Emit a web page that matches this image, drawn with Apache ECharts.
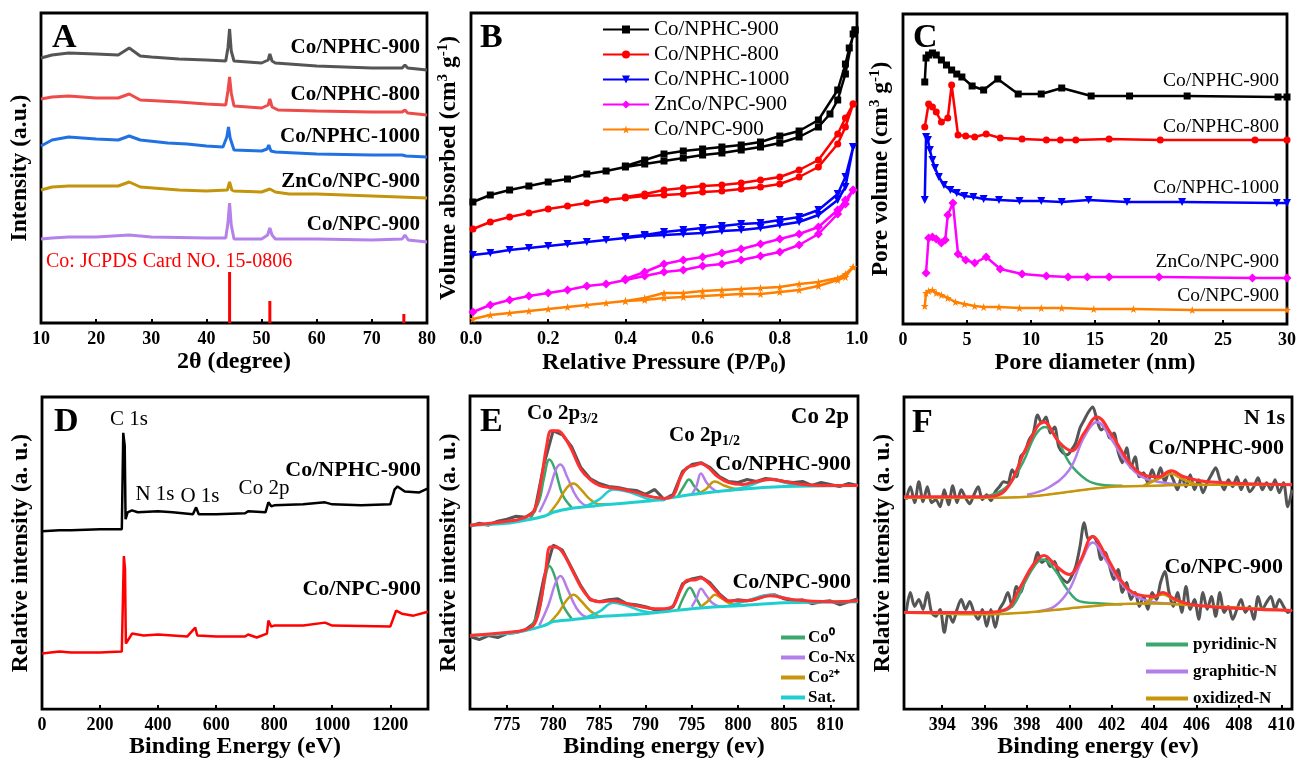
<!DOCTYPE html>
<html lang="en">
<head>
<meta charset="UTF-8">
<title>Co/NPHC characterization</title>
<script src="https://cdn.jsdelivr.net/npm/echarts@6/dist/echarts.min.js"></script>
<style>html,body{margin:0;background:#fff}</style>
</head>
<body>
<div id="main" style="width:1299px;height:760px;"></div>
<script>
// ---- A: XRD (2theta, intensity a.u.) ----
var xrdNPHC900 = [[10,265],[12,268],[15,270],[20,269],[24,268],[26,275],[28,267],[30,266],[35,264],[40,263],[43.5,262],[43.9,275],[44.2,294],[44.5,272],[45,262],[50,260],[51.2,263],[51.5,269],[51.9,262],[52.5,260],[60,257],[70,255],[75.5,255],[76,258],[76.5,255],[80,253]];
var xrdNPHC800 = [[10,224],[12,226],[15,227],[20,225],[24,225],[26,229],[28,223],[35,221],[40,219],[43.5,218],[43.9,232],[44.2,246],[44.5,230],[45,217],[50,215],[51.2,218],[51.5,224],[51.9,216],[53,213],[60,212],[70,211],[75.5,211],[76,213],[76.5,210],[80,208]];
var xrdNPHC1000 = [[10,177],[12,183],[15,186],[20,184],[24,183],[26,187],[28,183],[33,180],[36.5,179],[40,177],[43,176],[43.7,186],[44,196],[44.3,185],[45,173],[50,172],[51,174],[51.3,178],[51.7,172],[52.5,171],[60,169],[70,168],[75.5,168],[75.8,170],[76.2,167],[80,166]];
var xrdZnCo900 = [[10,133],[12,136],[15,137],[20,137],[24,137],[26,141],[28,136],[35,133],[40,132],[43.8,133],[44.2,141],[44.6,133],[45,132],[50,131],[51.5,134],[52.5,131],[55,129],[60,129],[70,127],[80,125]];
var xrdNPC900 = [[10,84],[12,85],[15,86],[20,86],[26,88],[30,86],[40,85],[43.5,85],[43.9,100],[44.2,120],[44.5,98],[45,84],[50,84],[51.1,88],[51.5,95],[51.9,88],[52.5,84],[60,84],[70,83],[75.5,84],[76,88],[76.6,83],[80,81]];
var jcpdsCo = [[44.2,51],[51.5,22],[75.8,9]];

// ---- B: N2 isotherms (P/P0, volume a.u.) adsorption / desorption ----
var isoNPHC900Ads = [[0.005,121],[0.05,128],[0.1,133],[0.15,137],[0.2,141],[0.25,144],[0.3,149],[0.35,152],[0.4,156],[0.45,159],[0.5,162],[0.55,165],[0.6,168],[0.65,170],[0.7,173],[0.75,176],[0.8,180],[0.85,186],[0.9,196],[0.93,209],[0.95,223],[0.97,249],[0.99,289],[0.995,293]];
var isoNPHC900Des = [[0.995,293],[0.98,275],[0.97,259],[0.95,233],[0.9,203],[0.85,192],[0.8,187],[0.75,181],[0.7,178],[0.65,176],[0.6,174],[0.55,172],[0.5,169],[0.45,163],[0.4,157]];
var isoNPHC800Ads = [[0.005,94],[0.05,101],[0.1,106],[0.15,110],[0.2,114],[0.25,117],[0.3,120],[0.35,123],[0.4,125],[0.45,127],[0.5,128],[0.55,129],[0.6,131],[0.65,132],[0.7,134],[0.75,136],[0.8,139],[0.85,146],[0.9,156],[0.95,179],[0.97,196],[0.99,219]];
var isoNPHC800Des = [[0.99,219],[0.97,205],[0.95,189],[0.9,163],[0.85,153],[0.8,146],[0.75,143],[0.7,140],[0.65,138],[0.6,137],[0.55,135],[0.5,133],[0.45,129],[0.4,126]];
var isoNPHC1000Ads = [[0.005,68],[0.05,70],[0.1,73],[0.15,75],[0.2,77],[0.25,79],[0.3,81],[0.35,83],[0.4,85],[0.45,87],[0.5,88],[0.55,89],[0.6,90],[0.65,92],[0.7,93],[0.75,95],[0.8,98],[0.85,101],[0.9,108],[0.95,123],[0.97,136],[0.99,176]];
var isoNPHC1000Des = [[0.99,176],[0.97,146],[0.95,129],[0.9,113],[0.85,106],[0.8,103],[0.75,100],[0.7,99],[0.65,97],[0.6,95],[0.55,93],[0.5,91],[0.45,88],[0.4,86]];
var isoZnCo900Ads = [[0.005,11],[0.05,18],[0.1,23],[0.15,27],[0.2,30],[0.25,33],[0.3,37],[0.35,39],[0.4,43],[0.45,47],[0.5,51],[0.55,53],[0.6,57],[0.65,59],[0.7,63],[0.75,67],[0.8,71],[0.85,78],[0.9,89],[0.95,109],[0.97,119],[0.99,133]];
var isoZnCo900Des = [[0.99,133],[0.97,123],[0.95,113],[0.9,96],[0.85,89],[0.8,84],[0.75,79],[0.7,74],[0.65,70],[0.6,66],[0.55,63],[0.5,59],[0.45,51],[0.4,44]];
var isoNPC900Ads = [[0.005,4],[0.05,8],[0.1,10],[0.15,12],[0.2,14],[0.25,16],[0.3,18],[0.35,20],[0.4,22],[0.45,23],[0.5,25],[0.55,26],[0.6,27],[0.65,28],[0.7,29],[0.75,29],[0.8,31],[0.85,33],[0.9,37],[0.95,43],[0.97,46],[0.99,56]];
var isoNPC900Des = [[0.99,56],[0.97,49],[0.95,45],[0.9,41],[0.85,39],[0.8,36],[0.75,35],[0.7,34],[0.65,33],[0.6,32],[0.55,30],[0.5,30],[0.45,25],[0.4,22]];

// ---- C: pore size distribution (nm, a.u.) ----
var poreNPHC900 = [[1.7,242],[1.8,266],[2.0,269],[2.3,271],[2.6,269],[3.0,264],[3.4,259],[3.8,254],[4.2,250],[4.6,247],[5.4,238],[6.3,234],[7.4,245],[9.0,230],[10.8,230],[12.4,236],[14.7,228],[17.7,228],[22.2,228],[29.3,227],[30,227]];
var poreNPHC800 = [[1.7,197],[2.0,220],[2.3,217],[2.6,212],[3.0,202],[3.5,206],[3.8,239],[4.3,189],[4.9,188],[5.6,187],[6.5,190],[7.6,186],[9.3,185],[11.2,184],[12.3,184],[13.5,184],[16.1,185],[20.1,184],[27.5,184],[30,184]];
var poreNPHC1000 = [[1.7,124],[1.8,187],[1.95,184],[2.1,174],[2.3,164],[2.5,156],[2.8,147],[3.2,139],[3.7,134],[4.2,131],[4.8,128],[5.5,127],[6.3,125],[7.5,124],[9.1,123],[10.8,123],[12.4,122],[14.5,124],[17.5,122],[21.8,122],[29.2,121],[30,121]];
var poreZnCo900 = [[1.8,51],[2.0,86],[2.3,87],[2.6,85],[3.0,81],[3.3,84],[3.5,109],[3.9,121],[4.3,70],[4.9,64],[5.6,61],[6.5,67],[7.6,55],[9.3,50],[11.2,48],[12.9,47],[14.4,47],[16.1,47],[20.0,47],[27.3,46],[30,46]];
var poreNPC900 = [[1.7,18],[1.8,31],[2.0,33],[2.3,34],[2.6,31],[3.0,29],[3.5,26],[4.1,22],[4.8,20],[5.6,18],[6.3,17],[7.5,17],[9.1,16],[10.8,16],[12.4,16],[14.9,15],[18.0,15],[22.6,14],[30,14]];

// ---- D: XPS survey (eV, a.u.) ----
var surveyNPHC900 = [[0,179],[60,180],[100,180],[200,181],[275,181],[280,278],[283,270],[285,265],[288,191],[295,198],[310,200],[330,198],[400,199],[450,198],[520,196],[531,203],[540,196],[600,196],[700,197],[710,199],[770,198],[780,208],[790,204],[800,205],[900,206],[975,208],[1000,206],[1100,205],[1200,206],[1215,221],[1225,224],[1250,219],[1300,218],[1330,222]];
var surveyNPC900 = [[0,56],[60,58],[100,57],[200,57],[275,58],[282,154],[286,141],[289,66],[300,71],[310,76],[350,74],[400,75],[500,73],[528,82],[535,74],[600,73],[700,73],[710,75],[740,72],[775,76],[780,89],[790,83],[800,84],[900,84],[975,87],[1000,84],[1200,83],[1220,99],[1240,96],[1280,94],[1330,98]];
var surveyTags = [['C 1s',129,419],['N 1s',155,494],['O 1s',200,496],['Co 2p',264,488]];

// ---- E: Co 2p (eV, a.u.) ----
var co2pRawNPHC = [[771,184],[772,187],[773,185],[774,189],[775,191],[776,194],[777,193],[778,199],[779,246],[780,280],[781,276],[782,264],[783,243],[784,232],[785,227],[786,224],[787,223],[788,221],[789,220],[790,216],[791,221],[792,211],[793,216],[794,239],[795,246],[796,248],[797,243],[798,234],[799,229],[800,228],[801,231],[802,229],[803,232],[804,231],[805,229],[806,228],[807,229],[808,225],[809,228],[810,226],[811,224],[812,227],[813,225]];
var co2pFitNPHC = [[771,185],[775,189],[777,193],[778,201],[778.7,230],[779.3,265],[779.8,280],[780.5,280],[781.2,274],[782,261],[783,241],[784,231],[785,225],[786,223],[787,222],[788,220],[789,218],[790,215],[791,213],[792,212],[793,215],[793.8,233],[794.5,243],[795.3,245],[796,247],[796.8,243],[797.8,234],[799,228],[800.5,226],[802,229],[803.5,231],[805,229],[807,226],[810,225],[813,225]];
var co2pBgNPHC = [[771,185],[775,187],[777,190],[779,194],[780,198],[782,202],[785,205],[790,209],[795,216],[800,221],[805,224],[813,225]];
var co0NPHC = [[777.5,191],[778.5,210],[779,232],[779.6,251],[780.2,241],[781,216],[782,203],[788,null],[793.5,214],[794.2,225],[794.7,231],[795.3,224],[796,217]];
var coNxNPHC = [[778.5,198],[779.5,218],[780.3,241],[780.8,246],[781.5,234],[782.5,214],[783.5,205],[784.5,204],[790,null],[795,216],[795.5,224],[796,237],[796.6,228],[797.2,222],[798,218]];
var co2NPHC = [[779.5,196],[780.5,208],[781.5,223],[782.2,227],[783,221],[784,211],[785,206],[786,206],[790,null],[795.5,216],[796.5,221],[797.5,229],[798.5,225],[799.5,222],[800.5,221]];
var satNPHC = [[783.5,204],[785,211],[786.5,221],[788,219],[789.5,214],[791,210],[792,210],[795,null],[799,220],[801,224],[803.5,231],[805.5,227],[807.5,225],[809,225]];
var co2pRawNPC = [[771,73],[772,70],[773,74],[774,72],[775,76],[776,77],[777,80],[778,87],[779,132],[780,165],[781,160],[782,142],[783,124],[784,110],[785,108],[786,110],[787,111],[788,106],[789,105],[790,103],[791,100],[792,98],[793,103],[794,126],[795,131],[796,133],[797,127],[798,116],[799,108],[800,110],[801,109],[802,111],[803,114],[804,115],[805,111],[806,109],[807,110],[808,106],[809,108],[810,109],[811,105],[812,108],[813,111]];
var co2pFitNPC = [[771,74],[776,78],[777,80],[778,86],[778.7,110],[779.2,140],[779.7,163],[780.3,163],[781,158],[782,141],[783,123],[784,111],[785,108],[786.5,109],[788,106],[789,104],[791,101],[792,101],[793,104],[793.8,120],[794.6,130],[795.3,130],[796,132],[796.8,127],[797.7,118],[799,109],[801,109],[803.5,114],[806,110],[810,108],[813,109]];
var co2pBgNPC = [[771,74],[775,76],[777,79],[779,84],[780,88],[782,90],[785,93],[790,96],[795,101],[800,104],[805,107],[813,108]];
var co0NPC = [[777.5,81],[778.5,100],[779,125],[779.6,144],[780.2,133],[781,106],[782,91],[788,null],[793.5,99],[794.2,114],[794.8,122],[795.4,113],[796,103]];
var coNxNPC = [[778.5,84],[779.5,105],[780.3,128],[780.8,134],[781.5,122],[782.5,102],[783.5,93],[784.5,92],[790,null],[795,103],[795.5,111],[796,121],[796.6,114],[797.2,107],[798,103]];
var co2NPC = [[779.5,86],[780.5,96],[781.5,110],[782.2,115],[783,109],[784,99],[785,93],[790,null],[796,103],[796.8,109],[797.5,115],[798.3,111],[799.2,106],[800.5,104]];
var satNPC = [[783.5,92],[785,98],[786.5,107],[788,104],[789.5,99],[791,97],[795,null],[799,104],[801,109],[803.5,115],[805.5,111],[807.5,108],[809,108]];

// ---- F: N 1s (eV, a.u.) ----
var n1sRawNPHC = [[392.3,210],[392.5,223],[392.7,207],[392.9,228],[393.1,208],[393.3,223],[393.5,207],[393.7,210],[393.9,203],[394.1,220],[394.3,205],[394.5,224],[394.7,207],[394.9,220],[395.1,212],[395.3,206],[395.5,215],[395.7,223],[395.9,210],[396.1,215],[396.3,209],[396.5,218],[396.7,223],[396.9,228],[397.1,227],[397.3,240],[397.5,233],[397.7,253],[397.9,258],[398.1,270],[398.3,277],[398.5,295],[398.7,287],[398.9,293],[399.1,277],[399.3,283],[399.5,263],[399.7,257],[399.9,255],[400.1,260],[400.3,267],[400.5,282],[400.7,290],[400.9,298],[401.1,303],[401.3,290],[401.5,280],[401.7,283],[401.9,272],[402.1,277],[402.3,258],[402.5,247],[402.7,262],[402.9,242],[403.1,253],[403.3,233],[403.5,237],[403.7,227],[403.9,240],[404.1,230],[404.3,242],[404.5,228],[404.7,238],[404.9,230],[405.1,220],[405.3,233],[405.5,223],[405.7,235],[405.9,220],[406.1,230],[406.3,217],[406.5,227],[406.7,235],[406.9,242],[407.1,230],[407.3,220],[407.5,230],[407.7,223],[407.9,233],[408.1,220],[408.3,230],[408.5,218],[408.7,223],[408.9,232],[409.1,220],[409.3,227],[409.5,220],[409.7,230],[409.9,217],[410.1,227],[410.3,203],[410.5,220]];
var n1sFitNPHC = [[392.2,213],[396,213],[397,220],[398,263],[398.8,288],[399.5,268],[400.1,259],[400.7,277],[401.3,293],[402,275],[402.8,248],[403.5,235],[404.2,233],[404.8,239],[405.4,233],[406.5,228],[410.5,225]];
var n1sBgNPHC = [[392.2,212],[396,212],[398,213],[400,218],[402,223],[404,224],[406,225],[410.5,225]];
var pyrNPHC = [[396,213],[397,222],[397.8,247],[398.4,275],[398.85,283],[399.4,272],[400,247],[400.8,230],[401.5,225],[402.5,224]];
var graNPHC = [[398,215],[399,222],[400,240],[400.7,273],[401.3,288],[402,270],[402.7,247],[403.5,232],[404.5,227],[405.5,225]];
var oxiNPHC = [[403.5,224],[404.3,232],[404.8,236],[405.3,231],[406,225]];
var n1sRawNPC = [[392.3,97],[392.5,117],[392.7,103],[392.9,110],[393.1,100],[393.3,117],[393.5,97],[393.7,93],[393.9,100],[394.1,77],[394.3,97],[394.5,87],[394.7,100],[394.9,110],[395.1,100],[395.3,108],[395.5,97],[395.7,90],[395.9,100],[396.1,83],[396.3,100],[396.5,82],[396.7,100],[396.9,107],[397.1,117],[397.3,103],[397.5,123],[397.7,117],[397.9,130],[398.1,137],[398.3,143],[398.5,157],[398.7,147],[398.9,150],[399.1,143],[399.3,148],[399.5,135],[399.7,130],[399.9,127],[400.1,133],[400.3,143],[400.5,163],[400.7,187],[400.9,170],[401.1,173],[401.3,167],[401.5,150],[401.7,157],[401.9,143],[402.1,130],[402.3,140],[402.5,117],[402.7,127],[402.9,110],[403.1,117],[403.3,103],[403.5,113],[403.7,100],[403.9,117],[404.1,110],[404.3,127],[404.5,138],[404.7,117],[404.9,103],[405.1,117],[405.3,97],[405.5,123],[405.7,100],[405.9,110],[406.1,90],[406.3,117],[406.5,100],[406.7,113],[406.9,93],[407.1,117],[407.3,97],[407.5,103],[407.7,90],[407.9,100],[408.1,110],[408.3,97],[408.5,103],[408.7,90],[408.9,113],[409.1,100],[409.3,107],[409.5,113],[409.7,100],[409.9,110],[410.1,103],[410.3,97],[410.5,100]];
var n1sFitNPC = [[392.2,97],[396,97],[397,100],[397.7,123],[398.3,145],[398.8,154],[399.4,143],[400,135],[400.5,148],[401.1,173],[401.7,155],[402.4,130],[403.2,115],[404,113],[404.4,117],[405,110],[406,104],[410.5,99]];
var n1sBgNPC = [[392.2,97],[396,95],[398,97],[400,101],[402,105],[404,106],[406,104],[410.5,99]];
var pyrNPC = [[396.5,97],[397.3,103],[397.9,127],[398.4,145],[398.75,150],[399.3,140],[399.9,120],[400.5,108],[401.5,106],[402.5,105]];
var graNPC = [[398.5,98],[399.3,103],[400,120],[400.6,150],[401.1,167],[401.7,150],[402.3,130],[403,115],[403.8,108],[404.8,106]];
var oxiNPC = [[403.5,105],[404,112],[404.4,115],[404.9,110],[405.5,105]];

var FONT = 'Liberation Serif';
var grids = [
  {left: 41, top: 13, width: 386, height: 310},
  {left: 471, top: 13, width: 386, height: 310},
  {left: 903, top: 14, width: 386, height: 310},
  {left: 42, top: 397, width: 386, height: 314},
  {left: 470, top: 396, width: 388, height: 315},
  {left: 904, top: 397, width: 388, height: 313}
];
grids.forEach(function (g) {
  g.show = true; g.borderColor = '#000'; g.borderWidth = 2.8; g.containLabel = false;
});

var plain = function (v) { return String(v); };
var xDefs = [
  {min: 10, max: 80, ticks: [10,20,30,40,50,60,70,80], name: '2θ (degree)', gap: 27},
  {min: 0, max: 1, ticks: [0,0.2,0.4,0.6,0.8,1.0], name: 'Relative Pressure (P/P{sub|0})', gap: 27, fmt: function (v) { return v.toFixed(1); }},
  {min: 0, max: 30, ticks: [0,5,10,15,20,25,30], name: 'Pore diameter (nm)', gap: 27},
  {min: 0, max: 1330, ticks: [0,200,400,600,800,1000,1200], name: 'Binding Energy (eV)', gap: 25},
  {min: 771, max: 813, ticks: [775,780,785,790,795,800,805,810], name: 'Binding energy (ev)', gap: 25},
  {min: 392.2, max: 410.5, ticks: [394,396,398,400,402,404,406,408,410], name: 'Binding energy (ev)', gap: 25}
];
var yNames = ['Intensity (a.u.)', 'Volume absorbed (cm{sup|3} g{sup|-1})', 'Pore volume (cm{sup|3} g{sup|-1})',
  'Relative intensity (a. u.)', 'Relative intensity (a. u.)', 'Relative intensity (a. u.)'];

var nameRich = {
  sub: {fontFamily: FONT, fontWeight: 'bold', fontSize: 15, padding: [11, 0, 0, 0]},
  sup: {fontFamily: FONT, fontWeight: 'bold', fontSize: 15, padding: [0, 0, 11, 0]}
};

var xAxes = xDefs.map(function (d, i) {
  return {
    type: 'value', gridIndex: i, min: d.min, max: d.max,
    name: d.name, nameLocation: 'middle', nameGap: d.gap,
    nameTextStyle: {fontFamily: FONT, fontWeight: 'bold', fontSize: 24, color: '#000', rich: nameRich},
    axisLine: {show: false}, splitLine: {show: false},
    axisTick: {show: true, inside: true, length: 4, lineStyle: {color: '#000', width: 2}, customValues: d.ticks},
    axisLabel: {fontFamily: FONT, fontWeight: 'bold', fontSize: 18, color: '#000', margin: 7,
      customValues: d.ticks, formatter: d.fmt || plain}
  };
});
var yAxes = grids.map(function (g, i) {
  return {
    type: 'value', gridIndex: i, min: 0, max: g.height,
    name: yNames[i], nameLocation: 'middle', nameGap: 9,
    nameTextStyle: {fontFamily: FONT, fontWeight: 'bold', fontSize: 23.5, color: '#000', rich: nameRich},
    axisLine: {show: false}, axisTick: {show: false}, axisLabel: {show: false}, splitLine: {show: false}
  };
});

var series = [];
function line(idx, name, data, color, width, extra) {
  var s = {
    type: 'line', name: name, xAxisIndex: idx, yAxisIndex: idx, data: data,
    symbol: 'none', lineStyle: {color: color, width: width}, itemStyle: {color: color},
    animation: false, z: 2, connectNulls: false
  };
  for (var k in extra) s[k] = extra[k];
  series.push(s);
}

// A
line(0, 'a1', xrdNPHC900, '#555555', 3);
line(0, 'a2', xrdNPHC800, '#ee4b4b', 3);
line(0, 'a3', xrdNPHC1000, '#2271e3', 3);
line(0, 'a4', xrdZnCo900, '#c4940c', 3);
line(0, 'a5', xrdNPC900, '#b482ea', 3);
series.push({type: 'bar', xAxisIndex: 0, yAxisIndex: 0, data: jcpdsCo, barWidth: 3,
  itemStyle: {color: '#ff0000'}, animation: false});

// B
var star = 'path://M50,0 L61,35 L98,35 L68,57 L79,91 L50,70 L21,91 L32,57 L2,35 L39,35 Z';
var bSets = [
  ['Co/NPHC-900', isoNPHC900Ads, isoNPHC900Des, '#000000', 'rect', 7],
  ['Co/NPHC-800', isoNPHC800Ads, isoNPHC800Des, '#ff0000', 'circle', 7],
  ['Co/NPHC-1000', isoNPHC1000Ads, isoNPHC1000Des, '#0000ff', 'triangle', 8],
  ['ZnCo/NPC-900', isoZnCo900Ads, isoZnCo900Des, '#ff00ff', 'diamond', 9],
  ['Co/NPC-900', isoNPC900Ads, isoNPC900Des, '#ff8000', star, 8]
];
bSets.forEach(function (b) {
  line(1, b[0], b[1].concat(b[2]), b[3], 2.5, {symbol: b[4], symbolSize: b[5], showSymbol: true,
    symbolRotate: b[4] === 'triangle' ? 180 : 0});
});

// C
line(2, 'c1', poreNPHC900, '#000000', 2.5, {symbol: 'rect', symbolSize: 7, showSymbol: true});
line(2, 'c2', poreNPHC800, '#ff0000', 2.5, {symbol: 'circle', symbolSize: 7, showSymbol: true});
line(2, 'c3', poreNPHC1000, '#0000ff', 2.5, {symbol: 'triangle', symbolSize: 8, showSymbol: true, symbolRotate: 180});
line(2, 'c4', poreZnCo900, '#ff00ff', 2.5, {symbol: 'diamond', symbolSize: 9, showSymbol: true});
line(2, 'c5', poreNPC900, '#ff8000', 2.5, {symbol: star, symbolSize: 8, showSymbol: true});

// D
line(3, 'd1', surveyNPHC900, '#000000', 2.5);
line(3, 'd2', surveyNPC900, '#ff0000', 2.5);

// E
var cGreen = '#3aa76d', cPurple = '#b47ee8', cGold = '#c8960a', cCyan = '#1fcfcf', cRed = '#ff3030', cRaw = '#555555';
[[co2pRawNPHC, co2pBgNPHC, co0NPHC, coNxNPHC, co2NPHC, satNPHC, co2pFitNPHC],
 [co2pRawNPC, co2pBgNPC, co0NPC, coNxNPC, co2NPC, satNPC, co2pFitNPC]].forEach(function (s) {
  line(4, 'raw', s[0], cRaw, 3);
  line(4, 'Co⁰', s[2], cGreen, 2.5, {smooth: 0.4});
  line(4, 'Co-Nx', s[3], cPurple, 2.5, {smooth: 0.4});
  line(4, 'Co²⁺', s[4], cGold, 2.5, {smooth: 0.4});
  line(4, 'Sat.', s[5], cCyan, 2.5, {smooth: 0.4});
  line(4, 'Sat.', s[1], cCyan, 3, {smooth: 0.3});
  line(4, 'fit', s[6], cRed, 3, {smooth: 0.4, z: 3});
});

// F
[[n1sRawNPHC, n1sBgNPHC, pyrNPHC, graNPHC, oxiNPHC, n1sFitNPHC],
 [n1sRawNPC, n1sBgNPC, pyrNPC, graNPC, oxiNPC, n1sFitNPC]].forEach(function (s) {
  line(5, 'rawN', s[0], cRaw, 3, {smooth: 0.3});
  line(5, 'bgN', s[1], '#4aa3e0', 1.5, {smooth: 0.3});
  line(5, 'pyridinic-N', s[2], cGreen, 2.5, {smooth: 0.4});
  line(5, 'graphitic-N', s[3], cPurple, 2.5, {smooth: 0.4});
  line(5, 'oxidized-N', s[4], cGold, 2.5, {smooth: 0.4});
  line(5, 'oxidized-N', s[1], cGold, 2.5, {smooth: 0.3});
  line(5, 'fitN', s[5], cRed, 3, {smooth: 0.4, z: 3});
});

function txt(x, y, text, o) {
  o = o || {};
  return {
    type: 'text', x: x, y: y, z: 10, silent: true,
    style: {
      text: text, fill: o.color || '#000', textAlign: o.align || 'right', textVerticalAlign: 'middle',
      fontFamily: FONT, fontWeight: o.bold === false ? 'normal' : 'bold', fontSize: o.size || 21,
      rich: {
        sub: {fontFamily: FONT, fontWeight: 'bold', fontSize: 14, padding: [10, 0, 0, 0]},
        b: {fontFamily: FONT, fontWeight: 'bold', fontSize: 21}
      }
    }
  };
}

var graphic = [
  txt(52, 38, 'A', {align: 'left', size: 34}),
  txt(420, 48, 'Co/NPHC-900'), txt(420, 95, 'Co/NPHC-800'), txt(420, 137, 'Co/NPHC-1000'),
  txt(420, 182, 'ZnCo/NPC-900'), txt(420, 225, 'Co/NPC-900'),
  txt(46, 262, 'Co: JCPDS Card NO. 15-0806', {align: 'left', bold: false, color: '#ff0000', size: 20}),
  txt(480, 38, 'B', {align: 'left', size: 34}),
  txt(913, 38, 'C', {align: 'left', size: 34}),
  txt(1279, 81, 'Co/NPHC-900', {bold: false, size: 19.5}), txt(1279, 127, 'Co/NPHC-800', {bold: false, size: 19.5}),
  txt(1279, 188, 'Co/NPHC-1000', {bold: false, size: 19.5}), txt(1279, 262, 'ZnCo/NPC-900', {bold: false, size: 19.5}),
  txt(1279, 296, 'Co/NPC-900', {bold: false, size: 19.5}),
  txt(54, 422, 'D', {align: 'left', size: 34}),
  txt(421, 470, 'Co/NPHC-900', {size: 22}), txt(421, 589, 'Co/NPC-900', {size: 22}),
  txt(480, 422, 'E', {align: 'left', size: 34}),
  txt(527, 414, '{b|Co 2p}{sub|3/2}', {align: 'left'}),
  txt(669, 436, '{b|Co 2p}{sub|1/2}', {align: 'left'}),
  txt(849, 417, 'Co 2p', {size: 23}),
  txt(851, 464, 'Co/NPHC-900', {size: 22}), txt(851, 582, 'Co/NPC-900', {size: 22}),
  txt(912, 423, 'F', {align: 'left', size: 34}),
  txt(1285, 418, 'N 1s', {size: 22}),
  txt(1284, 448, 'Co/NPHC-900', {size: 22}), txt(1283, 567, 'Co/NPC-900', {size: 22})
];
surveyTags.forEach(function (t) {
  graphic.push(txt(t[1], t[2], t[0], {align: 'center', bold: false, size: 21}));
});

var option = {
  backgroundColor: '#fff',
  animation: false,
  grid: grids,
  xAxis: xAxes,
  yAxis: yAxes,
  legend: [
    {data: bSets.map(function (b) { return b[0]; }), orient: 'vertical', left: 597, top: 14,
      itemWidth: 46, itemHeight: 10, itemGap: 4, selectedMode: false,
      textStyle: {fontFamily: FONT, fontSize: 21, color: '#000'}},
    {data: ['Co⁰', 'Co-Nx', 'Co²⁺', 'Sat.'], orient: 'vertical', left: 776, top: 624, icon: 'rect',
      itemWidth: 24, itemHeight: 4, itemGap: 3, selectedMode: false,
      textStyle: {fontFamily: FONT, fontSize: 17, fontWeight: 'bold', color: '#000', padding: [0, 0, 0, -2]}},
    {data: ['pyridinic-N', 'graphitic-N', 'oxidized-N'], orient: 'vertical', left: 1141, top: 631, icon: 'rect',
      itemWidth: 42, itemHeight: 4, itemGap: 10, selectedMode: false,
      textStyle: {fontFamily: FONT, fontSize: 17, fontWeight: 'bold', color: '#000'}}
  ],
  graphic: graphic,
  series: series
};

var myChart = echarts.init(document.getElementById('main'));
myChart.setOption(option);
</script>
</body>
</html>
